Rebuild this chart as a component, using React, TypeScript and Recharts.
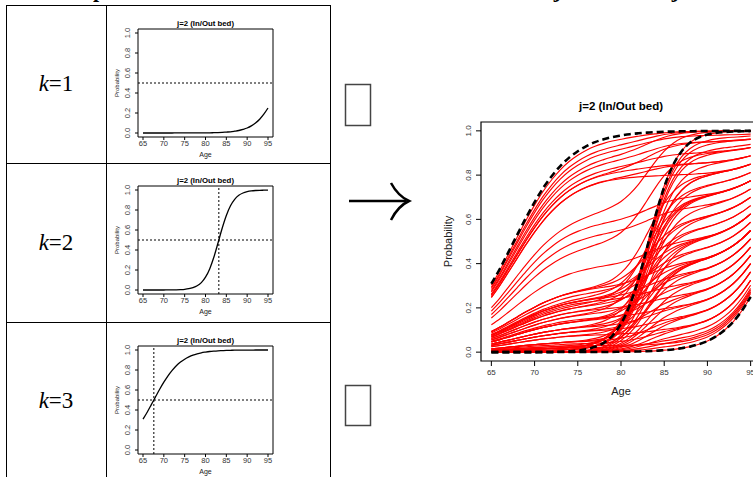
import React from "react"
import { LineChart, Line, XAxis, YAxis, ReferenceArea, ReferenceLine } from "recharts"

// ages on the x axis
const ages = [65, 66, 67, 68, 69, 70, 71, 72, 73, 74, 75, 76, 77, 78, 79, 80, 81, 82, 83, 84, 85, 86, 87, 88, 89, 90, 91, 92, 93, 94, 95]
const ageTicks = [65, 70, 75, 80, 85, 90, 95]
const probTicks = [0, 0.2, 0.4, 0.6, 0.8, 1]

const k1Curve = [0, 0, 0, 0, 0, 0, 0, 0, 0.001, 0.001, 0.001, 0.001, 0.001, 0.001, 0.001, 0.002, 0.002, 0.003, 0.004, 0.006, 0.009, 0.012, 0.018, 0.025, 0.036, 0.05, 0.071, 0.1, 0.138, 0.188, 0.25]
const k2Curve = [0, 0, 0, 0, 0, 0, 0.001, 0.001, 0.002, 0.004, 0.007, 0.013, 0.024, 0.042, 0.074, 0.128, 0.211, 0.327, 0.47, 0.618, 0.746, 0.843, 0.907, 0.947, 0.97, 0.983, 0.991, 0.995, 0.997, 0.998, 0.999]
const k3Curve = [0.309, 0.378, 0.454, 0.531, 0.607, 0.678, 0.742, 0.796, 0.842, 0.879, 0.908, 0.931, 0.949, 0.962, 0.972, 0.979, 0.985, 0.989, 0.992, 0.994, 0.996, 0.997, 0.998, 0.998, 0.999, 0.999, 0.999, 1, 1, 1, 1]

// individual curves as class membership weights [k1, k2, k3]
const curveWeights = [
  [0, 0.02, 0.98], [0, 0.05, 0.95], [0.02, 0.05, 0.93], [0, 0.1, 0.9], [0.05, 0.07, 0.88],
  [0.1, 0.05, 0.85], [0.15, 0.02, 0.83], [0.05, 0.12, 0.83], [0.2, 0, 0.8], [0.15, 0.05, 0.8],
  [0, 0.35, 0.65], [0.3, 0.1, 0.6], [0.35, 0.1, 0.55], [0.1, 0.4, 0.5], [0.5, 0.1, 0.4],
  [0.2, 0.5, 0.3], [0.6, 0.1, 0.3], [0.4, 0.3, 0.3], [0.5, 0.22, 0.28], [0.3, 0.44, 0.26],
  [0.65, 0.1, 0.25], [0.45, 0.3, 0.25], [0.55, 0.2, 0.25], [0.7, 0.06, 0.24], [0.25, 0.52, 0.23],
  [0.6, 0.18, 0.22], [0.4, 0.38, 0.22], [0.75, 0.05, 0.2], [0.5, 0.3, 0.2], [0.3, 0.52, 0.18],
  [0.65, 0.17, 0.18], [0.8, 0.04, 0.16], [0.45, 0.4, 0.15], [0.7, 0.15, 0.15], [0.55, 0.3, 0.15],
  [0.3, 0.58, 0.12], [0.8, 0.08, 0.12], [0.6, 0.28, 0.12], [0.85, 0.05, 0.1], [0.5, 0.4, 0.1],
  [0.75, 0.15, 0.1], [0.9, 0.02, 0.08], [0.6, 0.32, 0.08], [0.35, 0.6, 0.05], [0.85, 0.1, 0.05],
  [0.65, 0.3, 0.05], [0.9, 0.06, 0.04], [0.2, 0.77, 0.03], [0.6, 0.38, 0.02], [0.95, 0.03, 0.02],
  [0, 0.98, 0.02], [0.03, 0.95, 0.02], [0.05, 0.93, 0.02], [0.08, 0.9, 0.02], [0.1, 0.88, 0.02],
  [0.15, 0.84, 0.01], [0.2, 0.79, 0.01], [0.25, 0.74, 0.01], [0.3, 0.69, 0.01], [0.4, 0.6, 0],
  [0.5, 0.5, 0], [0.6, 0.4, 0], [0.7, 0.3, 0], [0.75, 0.25, 0], [0.8, 0.2, 0],
  [0.85, 0.15, 0], [0.9, 0.1, 0], [0.93, 0.07, 0], [0.96, 0.04, 0], [0.98, 0.02, 0],
  [1, 0, 0], [0.97, 0, 0.03],
]

const rows = ages.map((age, i) => {
  const row: Record<string, number> = { age, k1: k1Curve[i], k2: k2Curve[i], k3: k3Curve[i] }
  curveWeights.forEach((w, j) => {
    row["m" + j] = w[0] * k1Curve[i] + w[1] * k2Curve[i] + w[2] * k3Curve[i]
  })
  return row
})

const sans = "'Liberation Sans', Arial, sans-serif"
const serif = "'Liberation Serif', 'Times New Roman', serif"

function rotTick(fs: number, dx: number) {
  return (props: any) => {
    const x = props.x - dx
    return (
      <text x={x} y={props.y} transform={`rotate(-90 ${x} ${props.y})`} textAnchor="middle" fontSize={fs} fill="#333" fontFamily={sans}>
        {Number(props.payload.value).toFixed(1)}
      </text>
    )
  }
}

function yLabel(fs: number, xPos: number) {
  return (props: any) => {
    const vb = props.viewBox
    const y = vb.y + vb.height / 2
    return (
      <text x={xPos} y={y} transform={`rotate(-90 ${xPos} ${y})`} textAnchor="middle" fontSize={fs} fill="#222" fontFamily={sans}>
        Probability
      </text>
    )
  }
}

function SmallPanel({ top, dataKey, cut }: { top: number; dataKey: string; cut?: number }) {
  return (
    <div style={{ position: "absolute", left: 106, top, width: 225, height: 158 }}>
      <div style={{ position: "absolute", left: 32, width: 135, top: 14, textAlign: "center", fontFamily: sans, fontWeight: "bold", fontSize: 7.8 }}>
        j=2 (In/Out bed)
      </div>
      <LineChart width={225} height={158} data={rows} margin={{ top: 24, right: 58, bottom: 0, left: 0 }}>
        <XAxis dataKey="age" type="number" domain={[63.8, 96.2]} ticks={ageTicks} interval={0} axisLine={false} tickSize={3} tickMargin={1}
          tick={{ fontSize: 7.5, fill: "#333", fontFamily: sans }} height={26} stroke="#000"
          label={{ value: "Age", position: "insideBottom", offset: 6, fontSize: 7, fill: "#222", fontFamily: sans }} />
        <YAxis type="number" domain={[-0.04, 1.04]} ticks={probTicks} interval={0} axisLine={false} tickSize={3} tickMargin={2}
          width={32} stroke="#000" tick={rotTick(7.5, 3.5)} label={{ content: yLabel(6, 13) }} />
        <ReferenceArea x1={63.8} x2={96.2} y1={-0.04} y2={1.04} fill="none" stroke="#000" strokeWidth={1} ifOverflow="visible" />
        <ReferenceLine y={0.5} stroke="#000" strokeDasharray="2 2" strokeWidth={1} />
        {cut !== undefined && <ReferenceLine x={cut} stroke="#000" strokeDasharray="2 2" strokeWidth={1} />}
        <Line dataKey={dataKey} type="monotone" stroke="#000" strokeWidth={1.3} dot={false} isAnimationActive={false} />
      </LineChart>
    </div>
  )
}

export default function App() {
  return (
    <div style={{ position: "absolute", left: 0, top: 0, width: 753, height: 477, overflow: "hidden", background: "#fff" }}>
      <div style={{ position: "absolute", left: 38, top: -21, fontFamily: serif, fontWeight: "bold", fontSize: 22, whiteSpace: "nowrap", lineHeight: "22px" }}>
        Example of individual data with the estimated class trajectories for j
      </div>

      {/* table */}
      <div style={{ position: "absolute", left: 6, top: 5, width: 325, height: 480, border: "1px solid #000", boxSizing: "border-box" }} />
      <div style={{ position: "absolute", left: 106, top: 5, width: 1, height: 480, background: "#000" }} />
      <div style={{ position: "absolute", left: 6, top: 163, width: 325, height: 1, background: "#000" }} />
      <div style={{ position: "absolute", left: 6, top: 322, width: 325, height: 1, background: "#000" }} />
      {[{ t: "1", y: 71 }, { t: "2", y: 230 }, { t: "3", y: 388 }].map((r) => (
        <div key={r.t} style={{ position: "absolute", left: 6, width: 100, top: r.y, textAlign: "center", fontFamily: serif, fontSize: 23, lineHeight: "26px" }}>
          <i>k</i>={r.t}
        </div>
      ))}

      <SmallPanel top={5} dataKey="k1" />
      <SmallPanel top={162} dataKey="k2" cut={83.2} />
      <SmallPanel top={322} dataKey="k3" cut={67.6} />

      {/* boxes and arrow */}
      <svg width={753} height={477} style={{ position: "absolute", left: 0, top: 0 }}>
        <rect x={345.5} y={84.5} width={25} height={41} fill="none" stroke="#444" strokeWidth={1.5} />
        <rect x={345.5} y={385.5} width={25} height={40} fill="none" stroke="#444" strokeWidth={1.5} />
        <line x1={349} y1={201} x2={406} y2={201} stroke="#000" strokeWidth={2.5} />
        <path d="M391 183 Q398 196 409 201 Q398 206 391 220" fill="none" stroke="#000" strokeWidth={2.5} />
      </svg>

      {/* mixture plot */}
      <div style={{ position: "absolute", left: 430, top: 90, width: 340, height: 320 }}>
        <div style={{ position: "absolute", left: 51, width: 280, top: 10, textAlign: "center", fontFamily: sans, fontWeight: "bold", fontSize: 11.5 }}>
          j=2 (In/Out bed)
        </div>
        <LineChart width={340} height={320} data={rows} margin={{ top: 32, right: 9, bottom: 9, left: 0 }}>
          <XAxis dataKey="age" type="number" domain={[63.8, 96.2]} ticks={ageTicks} interval={0} axisLine={false} tickSize={5} tickMargin={3}
            tick={{ fontSize: 8, fill: "#333", fontFamily: sans }} height={40} stroke="#000"
            label={{ value: "Age", position: "insideBottom", offset: 6, fontSize: 11, fill: "#222", fontFamily: sans }} />
          <YAxis type="number" domain={[-0.04, 1.04]} ticks={probTicks} interval={0} axisLine={false} tickSize={5} tickMargin={2}
            width={51} stroke="#000" tick={rotTick(8, 3)} label={{ content: yLabel(11, 22) }} />
          <ReferenceArea x1={63.8} x2={96.2} y1={-0.04} y2={1.04} fill="none" stroke="#000" strokeWidth={1.2} ifOverflow="visible" />
          {curveWeights.map((_, j) => (
            <Line key={j} dataKey={"m" + j} type="monotone" stroke="#ff0000" strokeWidth={1.15} dot={false} isAnimationActive={false} />
          ))}
          <Line dataKey="k1" type="monotone" stroke="#000" strokeWidth={2.6} strokeDasharray="7 4" dot={false} isAnimationActive={false} />
          <Line dataKey="k2" type="monotone" stroke="#000" strokeWidth={2.6} strokeDasharray="7 4" dot={false} isAnimationActive={false} />
          <Line dataKey="k3" type="monotone" stroke="#000" strokeWidth={2.6} strokeDasharray="7 4" dot={false} isAnimationActive={false} />
        </LineChart>
      </div>
    </div>
  )
}
